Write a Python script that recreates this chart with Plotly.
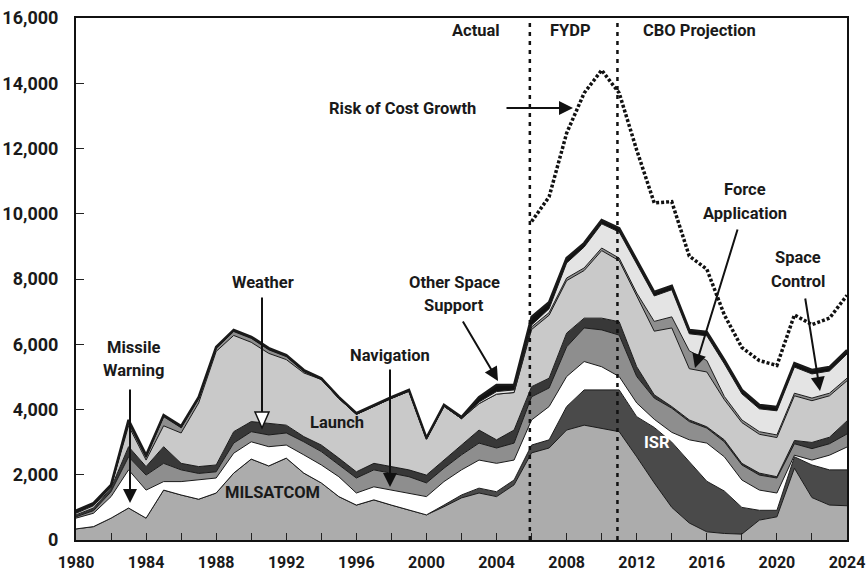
import plotly.graph_objects as go

# ---------------- data (millions of dollars) ----------------
years = list(range(1980, 2025))

milsatcom = [340, 410, 670, 980, 670, 1530, 1380, 1250, 1440, 2050, 2480, 2270, 2510, 2050, 1750,
             1330, 1070, 1230, 1070, 920, 770, 1020, 1290, 1440, 1330, 1690, 2670, 2820, 3370, 3520,
             3430, 3320, 2550, 1750, 1000, 520, 250, 200, 180, 610, 710, 2200, 1300, 1070, 1050]
isr = [0, 0, 0, 0, 0, 0, 0, 0, 0, 0, 0, 0, 0, 0, 0,
       0, 0, 0, 0, 0, 0, 50, 90, 150, 150, 150, 240, 250, 720, 1080,
       1170, 1280, 1230, 1700, 2000, 1880, 1550, 1300, 820, 300, 200, 350, 1000, 1080, 1100]
missile_warning = [330, 410, 660, 1170, 860, 260, 410, 590, 460, 610, 530, 590, 400, 560, 550,
                   610, 370, 400, 460, 520, 560, 720, 770, 860, 870, 610, 770, 1020, 920, 870,
                   710, 410, 420, 250, 300, 670, 1170, 1050, 840, 620, 530, 50, 150, 450, 700]
navigation = [40, 80, 150, 400, 460, 560, 360, 200, 190, 310, 310, 360, 370, 400, 410,
              360, 460, 520, 510, 500, 420, 410, 460, 520, 470, 520, 710, 570, 910, 1030,
              1130, 1270, 810, 650, 740, 560, 460, 460, 460, 460, 460, 350, 350, 350, 400]
weather = [60, 80, 110, 310, 260, 510, 200, 210, 210, 350, 310, 360, 240, 160, 200,
           210, 190, 200, 210, 210, 240, 250, 300, 400, 250, 400, 310, 300, 420, 300,
           360, 410, 300, 100, 50, 50, 40, 60, 50, 60, 40, 100, 190, 200, 400]
launch = [50, 70, 30, 640, 200, 640, 930, 1950, 3480, 2950, 2430, 2140, 2010, 1950, 2010,
          1830, 1760, 1750, 2090, 2410, 1100, 1650, 810, 810, 1400, 1150, 1750, 1930, 1610, 1460,
          2070, 1870, 2180, 1950, 2410, 1570, 1680, 1230, 1250, 1190, 1200, 1370, 1280, 1270, 1230]
force_application = [20, 20, 20, 80, 80, 280, 160, 130, 90, 120, 120, 110, 90, 40, 0,
                     0, 0, 0, 0, 0, 0, 0, 0, 0, 0, 0, 80, 80, 80, 80,
                     80, 80, 80, 300, 340, 550, 350, 100, 80, 80, 80, 80, 80, 80, 80]
space_control = [10, 10, 10, 20, 20, 10, 10, 10, 10, 10, 10, 10, 10, 10, 0,
                 0, 0, 0, 0, 0, 0, 0, 0, 50, 80, 80, 60, 120, 460, 640,
                 740, 800, 890, 780, 830, 520, 760, 1000, 800, 700, 740, 800, 740, 680, 740]
other_space_support = [50, 50, 40, 80, 50, 40, 40, 40, 40, 40, 40, 40, 40, 40, 40,
                       40, 40, 40, 40, 40, 40, 40, 50, 150, 200, 150, 250, 200, 150, 120,
                       120, 120, 120, 120, 120, 120, 120, 120, 120, 120, 120, 120, 120, 120, 120]

risk_years = list(range(2006, 2025))
risk_of_cost_growth = [9760, 10520, 12470, 13700, 14400, 13700, 11950, 10330, 10370, 8700,
                       8300, 6900, 5900, 5500, 5350, 6900, 6600, 6800, 7500]

phase_bounds = [2005.9, 2010.9]

layers = [
    ("MILSATCOM", milsatcom, "#acacac"),
    ("ISR", isr, "#4a4a4a"),
    ("Missile Warning", missile_warning, "#ffffff"),
    ("Navigation", navigation, "#8e8e8e"),
    ("Weather", weather, "#383838"),
    ("Launch", launch, "#c9c9c9"),
    ("Force Application", force_application, "#8e8e8e"),
    ("Space Control", space_control, "#e4e4e4"),
    ("Other Space Support", other_space_support, "#111111"),
]

fig = go.Figure()
for name, vals, col in layers:
    lw = 2.5 if name == "Other Space Support" else 1
    fig.add_trace(go.Scatter(
        x=years, y=vals, name=name, stackgroup="one", mode="lines",
        line=dict(color="#1a1a1a", width=lw), fillcolor=col,
        showlegend=False, hoverinfo="skip"))

fig.add_trace(go.Scatter(
    x=risk_years, y=risk_of_cost_growth, mode="lines", name="Risk of Cost Growth",
    line=dict(color="#111111", width=3.5, dash="3px,2px"), showlegend=False, hoverinfo="skip"))

for b in phase_bounds:
    fig.add_shape(type="line", xref="x", yref="paper", x0=b, x1=b, y0=0, y1=1,
                  line=dict(color="#111111", width=2.5, dash="4px,5px"))

# ---------------- layout geometry (page pixels; body margin removed below) ----------------
PL, PR, PT, PB = 76, 847, 18, 540
W, H = 866, 576


def px(xp):
    return (xp - PL) / (PR - PL)


def py(yp):
    return (PB - yp) / (PB - PT)


FAM = "Roboto, Open Sans, sans-serif"
FONT = dict(family=FAM, size=16.5, color="#1a1a1a", weight="bold")

labels = [
    ("Actual", 476, 31), ("FYDP", 570, 31), ("CBO Projection", 699, 31),
    ("Risk of Cost Growth", 402, 108),
    ("Missile", 133, 347), ("Warning", 133, 370),
    ("Weather", 263, 282),
    ("Navigation", 390, 355),
    ("Other Space", 454, 282), ("Support", 454, 305),
    ("Launch", 337, 422),
    ("MILSATCOM", 272, 492),
    ("Force", 745, 189), ("Application", 745, 213),
    ("Space", 798, 257), ("Control", 798, 281),
]
for t, x, y in labels:
    fig.add_annotation(text=t, x=px(x), y=py(y), xref="paper", yref="paper",
                       showarrow=False, xanchor="center", yanchor="middle", font=FONT)
fig.add_annotation(text="ISR", x=px(657), y=py(442), xref="paper", yref="paper",
                   showarrow=False, xanchor="center", yanchor="middle",
                   font=dict(FONT, color="#ffffff"))

arrows = [
    # tip_x, tip_y, tail_x, tail_y, head
    (573, 108, 505, 108, 2),
    (130, 503, 130, 388, 2),
    (390, 487, 390, 368, 2),
    (498, 381, 462, 320, 2),
    (695, 368, 738, 228, 2),
    (820, 391, 805, 297, 2),
    (262, 412, 262, 296, 0),
]
for tx, ty, sx, sy, h in arrows:
    fig.add_annotation(text="", x=px(tx), y=py(ty), xref="paper", yref="paper",
                       ax=sx - tx, ay=sy - ty, axref="pixel", ayref="pixel",
                       showarrow=True, arrowhead=h, arrowsize=1.4, arrowwidth=2,
                       arrowcolor="#111111", standoff=0)

# hollow arrow head for Weather
fig.add_shape(type="path", xref="paper", yref="paper",
              path=f"M {px(255)},{py(412)} L {px(269)},{py(412)} L {px(262)},{py(428)} Z",
              fillcolor="#ffffff", line=dict(color="#111111", width=1.5))

YTICKFONT = dict(family=FAM, size=18, color="#1a1a1a", weight="bold")
XTICKFONT = dict(family=FAM, size=16, color="#1a1a1a", weight="bold")

fig.update_layout(
    width=W, height=H,
    margin=dict(l=PL, r=W - PR, t=PT, b=H - PB),
    paper_bgcolor="#ffffff", plot_bgcolor="#ffffff",
    xaxis=dict(range=[1980, 2024], tickmode="linear", tick0=1980, dtick=4,
               ticks="inside", ticklen=7, tickwidth=1.2, tickcolor="#222",
               minor=dict(dtick=2, ticks="inside", ticklen=7, tickwidth=1.2, tickcolor="#222"),
               showline=True, linewidth=2, linecolor="#111", mirror=True,
               showgrid=False, zeroline=False, ticklabelstandoff=7,
               automargin=False, ticklabeloverflow="allow",
               tickfont=XTICKFONT),
    yaxis=dict(range=[0, 16000], tickmode="linear", tick0=0, dtick=2000, tickformat=",",
               ticks="inside", ticklen=8, tickwidth=1.2, tickcolor="#222",
               showline=True, linewidth=2, linecolor="#111", mirror=True,
               showgrid=False, zeroline=False, ticklabelstandoff=12,
               automargin=False, ticklabeloverflow="allow",
               tickfont=YTICKFONT),
)

fig.write_html("out.html", config={"displayModeBar": False},
               post_script="document.body.style.margin='0';document.body.style.overflow='hidden';")
